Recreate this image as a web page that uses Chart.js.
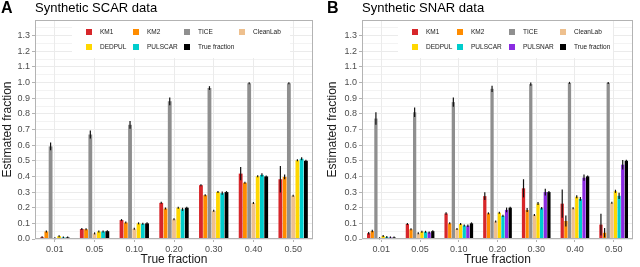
<!DOCTYPE html>
<html>
<head>
<meta charset="utf-8">
<script src="https://cdn.jsdelivr.net/npm/chart.js@4.4.0/dist/chart.umd.min.js"></script>
<style>
body { margin: 0; background: #fff; }
#wrap { position: relative; width: 640px; height: 267px; font-family: "Liberation Sans", Arial, sans-serif; color: #000; }
.panel { position: absolute; top: 0; width: 320px; height: 267px; }
.tag { position: absolute; top: -1px; font-weight: bold; font-size: 16px; }
.ttl { position: absolute; top: 0px; font-size: 13px; }
</style>
</head>
<body>
<div id="wrap">
  <div class="panel" style="left:0"><canvas id="scar" width="320" height="267"></canvas></div>
  <div class="panel" style="left:320px"><canvas id="snar" width="320" height="267"></canvas></div>
  <div class="tag" style="left:1px">A</div>
  <div class="ttl" style="left:35px">Synthetic SCAR data</div>
  <div class="tag" style="left:327px">B</div>
  <div class="ttl" style="left:362px">Synthetic SNAR data</div>
</div>
<script>
const categories = ['0.01', '0.05', '0.10', '0.20', '0.30', '0.40', '0.50']

// panel A - SCAR
const scarKM1 = [0.011, 0.064, 0.121, 0.231, 0.344, 0.418, 0.382]
const scarKM1Sd = [0.003, 0.003, 0.005, 0.004, 0.003, 0.043, 0.085]
const scarKM2 = [0.048, 0.062, 0.105, 0.195, 0.28, 0.36, 0.397]
const scarKM2Sd = [0.005, 0.003, 0.005, 0.005, 0.004, 0.006, 0.015]
const scarTICE = [0.592, 0.668, 0.73, 0.88, 0.965, 0.995, 0.995]
const scarTICESd = [0.025, 0.025, 0.025, 0.025, 0.012, 0.005, 0.005]
const scarCleanLab = [0.004, 0.036, 0.065, 0.126, 0.18, 0.23, 0.277]
const scarCleanLabSd = [0.002, 0.003, 0.004, 0.004, 0.003, 0.003, 0.003]
const scarDEDPUL = [0.018, 0.048, 0.1, 0.2, 0.301, 0.401, 0.503]
const scarDEDPULSd = [0.004, 0.003, 0.003, 0.004, 0.004, 0.005, 0.006]
const scarPULSCAR = [0.01, 0.048, 0.097, 0.19, 0.293, 0.41, 0.513]
const scarPULSCARSd = [0.003, 0.004, 0.004, 0.01, 0.01, 0.01, 0.01]

// panel B - SNAR
const snarKM1 = [0.037, 0.096, 0.163, 0.274, 0.324, 0.226, 0.092]
const snarKM1Sd = [0.008, 0.005, 0.008, 0.025, 0.058, 0.09, 0.07]
const snarKM2 = [0.051, 0.062, 0.1, 0.164, 0.185, 0.115, 0.04]
const snarKM2Sd = [0.008, 0.003, 0.005, 0.006, 0.013, 0.035, 0.03]
const snarTICE = [0.77, 0.81, 0.875, 0.96, 0.99, 0.998, 0.998]
const snarTICESd = [0.04, 0.03, 0.03, 0.02, 0.01, 0.003, 0.003]
const snarCleanLab = [0.005, 0.036, 0.064, 0.112, 0.153, 0.196, 0.231]
const snarCleanLabSd = [0.002, 0.003, 0.003, 0.004, 0.003, 0.004, 0.004]
const snarDEDPUL = [0.019, 0.047, 0.096, 0.168, 0.227, 0.27, 0.305]
const snarDEDPULSd = [0.004, 0.004, 0.005, 0.007, 0.01, 0.01, 0.01]
const snarPULSCAR = [0.012, 0.046, 0.086, 0.148, 0.197, 0.256, 0.276]
const snarPULSCARSd = [0.003, 0.004, 0.006, 0.007, 0.008, 0.012, 0.02]
const snarPULSNAR = [0.01, 0.042, 0.085, 0.186, 0.3, 0.392, 0.475]
const snarPULSNARSd = [0.003, 0.005, 0.008, 0.015, 0.022, 0.02, 0.03]

const trueFraction = [0.01, 0.05, 0.1, 0.2, 0.3, 0.4, 0.5]
const trueSd = [0, 0, 0, 0, 0, 0, 0]

const colors = {
    KM1: '#D7262A', KM2: '#FF8C00', TICE: '#8F8F8F', CleanLab: '#EEC08E',
    DEDPUL: '#FFD700', PULSCAR: '#00CDCD', PULSNAR: '#8A2BE2', 'True fraction': '#000000'
}

Chart.defaults.font.family = '"Liberation Sans", Arial, sans-serif'

const isMajor = v => Math.round(v * 20) % 2 === 0 && v < 1.35

const errorBars = {
    id: 'errorBars',
    afterDatasetsDraw(chart) {
        const ctx = chart.ctx, y = chart.scales.y
        ctx.save()
        ctx.strokeStyle = '#111'
        ctx.lineWidth = 1.2
        chart.data.datasets.forEach((ds, i) => {
            chart.getDatasetMeta(i).data.forEach((bar, j) => {
                const m = ds.data[j], s = ds.sd[j]
                let top = y.getPixelForValue(m + s)
                let bot = y.getPixelForValue(Math.max(0, m - s))
                if (bot - top < 2) { const c = (top + bot) / 2; top = c - 1; bot = c + 1 }
                ctx.beginPath()
                ctx.moveTo(bar.x, top)
                ctx.lineTo(bar.x, bot)
                ctx.stroke()
            })
        })
        ctx.restore()
    }
}

const panelFrame = {
    id: 'panelFrame',
    afterDraw(chart) {
        const a = chart.chartArea, ctx = chart.ctx
        ctx.save()
        ctx.strokeStyle = '#B3B3B3'
        ctx.lineWidth = 1
        ctx.strokeRect(a.left + 0.5, a.top + 0.5, a.right - a.left - 1, a.bottom - a.top - 1)
        ctx.restore()
    }
}

// legend drawn inside the panel, ggplot style grid of 4 columns
const panelLegend = {
    id: 'panelLegend',
    beforeDatasetsDraw(chart, args, opts) {
        const ctx = chart.ctx
        ctx.save()
        ctx.fillStyle = '#fff'
        ctx.fillRect(opts.bg[0], opts.bg[1], opts.bg[2], opts.bg[3])
        ctx.font = '6.5px "Liberation Sans", Arial, sans-serif'
        ctx.textBaseline = 'middle'
        chart.data.datasets.forEach((ds, k) => {
            const x = opts.cols[k % 4], y = opts.rows[Math.floor(k / 4)]
            ctx.fillStyle = ds.backgroundColor
            ctx.fillRect(x, y - 3, 6, 6)
            ctx.fillStyle = '#1A1A1A'
            ctx.fillText(ds.label, x + 14, y + 0.5)
        })
        ctx.restore()
    }
}

function makeChart(id, series, legendOpts, leftPad, yWidth) {
    return new Chart(document.getElementById(id), {
        type: 'bar',
        data: {
            labels: categories,
            datasets: series.map(s => ({
                label: s[0],
                data: s[1],
                sd: s[2],
                backgroundColor: colors[s[0]],
                borderWidth: 0,
                categoryPercentage: 0.75,
                barPercentage: 0.9
            }))
        },
        options: {
            responsive: false,
            animation: false,
            layout: { padding: { left: leftPad, right: 7, top: 20, bottom: 0 } },
            plugins: {
                legend: { display: false },
                tooltip: { enabled: false },
                panelLegend: legendOpts
            },
            scales: {
                x: {
                    offset: true,
                    grid: { offset: false, color: '#EBEBEB', tickColor: '#B3B3B3', tickLength: 3 },
                    border: { display: false },
                    ticks: { color: '#4D4D4D', font: { size: 9 }, padding: 2, maxRotation: 0 },
                    title: { display: true, text: 'True fraction', color: '#1A1A1A', font: { size: 12 }, padding: 0 },
                    afterFit: s => { s.height = 28 }
                },
                y: {
                    min: 0,
                    max: 1.4,
                    ticks: {
                        stepSize: 0.05,
                        autoSkip: false,
                        color: '#4D4D4D',
                        font: { size: 9 },
                        padding: 2,
                        callback: v => isMajor(v) ? v.toFixed(1) : ''
                    },
                    grid: {
                        color: '#EBEBEB',
                        lineWidth: c => isMajor(c.tick.value) ? 1 : 0.6,
                        tickColor: c => isMajor(c.tick.value) ? '#B3B3B3' : 'rgba(0,0,0,0)',
                        tickLength: 3
                    },
                    border: { display: false },
                    title: { display: true, text: 'Estimated fraction', color: '#1A1A1A', font: { size: 12 }, padding: 0 },
                    afterFit: s => { s.width = yWidth }
                }
            }
        },
        plugins: [panelLegend, errorBars, panelFrame]
    })
}

makeChart('scar', [
    ['KM1', scarKM1, scarKM1Sd],
    ['KM2', scarKM2, scarKM2Sd],
    ['TICE', scarTICE, scarTICESd],
    ['CleanLab', scarCleanLab, scarCleanLabSd],
    ['DEDPUL', scarDEDPUL, scarDEDPULSd],
    ['PULSCAR', scarPULSCAR, scarPULSCARSd],
    ['True fraction', trueFraction, trueSd]
], { bg: [72, 21, 218, 37], cols: [86, 133, 184, 239], rows: [32, 47] }, 0, 35)

makeChart('snar', [
    ['KM1', snarKM1, snarKM1Sd],
    ['KM2', snarKM2, snarKM2Sd],
    ['TICE', snarTICE, snarTICESd],
    ['CleanLab', snarCleanLab, snarCleanLabSd],
    ['DEDPUL', snarDEDPUL, snarDEDPULSd],
    ['PULSCAR', snarPULSCAR, snarPULSCARSd],
    ['PULSNAR', snarPULSNAR, snarPULSNARSd],
    ['True fraction', trueFraction, trueSd]
], { bg: [78, 21, 215, 37], cols: [92, 137, 189, 240], rows: [32, 47] }, 5, 37)
</script>
</body>
</html>
